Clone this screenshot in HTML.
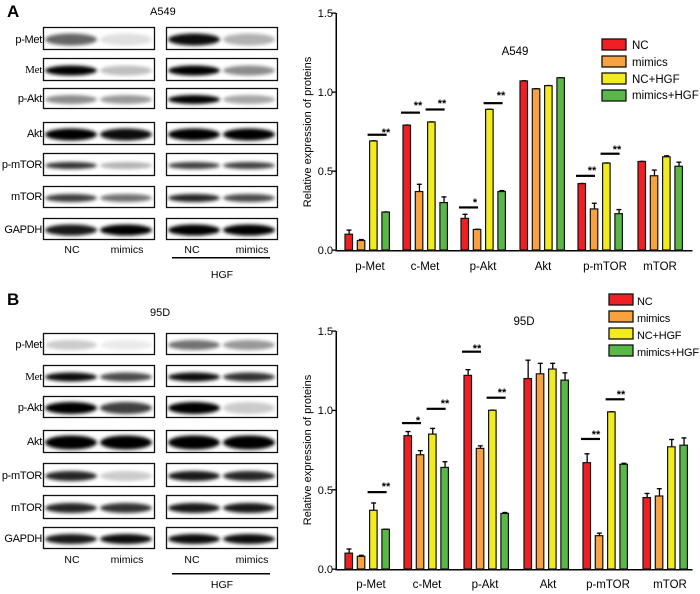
<!DOCTYPE html>
<html><head><meta charset="utf-8"><style>
html,body{margin:0;padding:0;background:#fff;}
svg{display:block;font-family:"Liberation Sans",Arial,sans-serif;}
</style></head><body>
<svg id="s" width="700" height="594" viewBox="0 0 700 594" xmlns="http://www.w3.org/2000/svg">
<defs>
<filter id="b1" x="-30%" y="-100%" width="160%" height="300%"><feGaussianBlur stdDeviation="1.8"/></filter>
</defs>
<g id="blots"></g>
<g id="bars"></g>
<text x="7" y="17" font-size="17" font-weight="bold">A</text>
<text x="150" y="15" font-size="11">A549</text>
<g font-size="11" text-anchor="end" letter-spacing="-0.3">
<text x="42" y="43">p-Met</text>
<text x="42" y="73" font-family="Liberation Serif,serif">Met</text>
<text x="42" y="102">p-Akt</text>
<text x="42" y="137">Akt</text>
<text x="42" y="168">p-mTOR</text>
<text x="42" y="200">mTOR</text>
<text x="42" y="233">GAPDH</text>
</g>
<g font-size="10.5" text-anchor="middle">
<text x="72" y="253">NC</text><text x="127" y="253">mimics</text>
<text x="192" y="253">NC</text><text x="252" y="253">mimics</text>
<text x="222" y="278">HGF</text>
</g>
<rect x="172" y="257" width="98" height="1.5" fill="#000"/>
<text x="7" y="305" font-size="17" font-weight="bold">B</text>
<text x="150" y="316" font-size="11">95D</text>
<g font-size="11" text-anchor="end" letter-spacing="-0.3">
<text x="42" y="348">p-Met</text>
<text x="42" y="380" font-family="Liberation Serif,serif">Met</text>
<text x="42" y="411">p-Akt</text>
<text x="42" y="445">Akt</text>
<text x="42" y="479">p-mTOR</text>
<text x="42" y="511">mTOR</text>
<text x="42" y="542">GAPDH</text>
</g>
<g font-size="10.5" text-anchor="middle">
<text x="72" y="563">NC</text><text x="127" y="563">mimics</text>
<text x="192" y="563">NC</text><text x="252" y="563">mimics</text>
<text x="222" y="588">HGF</text>
</g>
<rect x="172" y="573" width="98" height="1.5" fill="#000"/>
<g font-size="11" text-anchor="end">
<text x="333" y="254">0.0</text><text x="333" y="175">0.5</text><text x="333" y="96">1.0</text><text x="333" y="17">1.5</text>
<text x="333" y="573">0.0</text><text x="333" y="494">0.5</text><text x="333" y="414">1.0</text><text x="333" y="335">1.5</text>
</g>
<text transform="translate(311,132) rotate(-90)" font-size="11" text-anchor="middle">Relative expression of proteins</text>
<text transform="translate(311,450) rotate(-90)" font-size="11" text-anchor="middle">Relative expression of proteins</text>
<text x="515" y="55" font-size="11.5" text-anchor="middle">A549</text>
<text x="524" y="325" font-size="11.5" text-anchor="middle">95D</text>
<g font-size="11.5" text-anchor="middle">
<text x="370" y="270">p-Met</text><text x="425" y="270">c-Met</text><text x="483" y="270">p-Akt</text><text x="543" y="270">Akt</text><text x="605" y="270">p-mTOR</text><text x="660" y="270">mTOR</text>
<text x="371" y="588">p-Met</text><text x="427" y="588">c-Met</text><text x="485" y="588">p-Akt</text><text x="548" y="588">Akt</text><text x="608" y="588">p-mTOR</text><text x="670" y="588">mTOR</text>
</g>
<g font-size="11.5">
<text x="632" y="49">NC</text><text x="632" y="66">mimics</text><text x="632" y="83">NC+HGF</text><text x="632" y="99">mimics+HGF</text>
</g>
<g font-size="11" letter-spacing="-0.2">
<text x="637" y="305">NC</text><text x="637" y="322">mimics</text><text x="637" y="339">NC+HGF</text><text x="637" y="356">mimics+HGF</text>
</g>
<g id="stars" font-size="11" font-weight="bold" text-anchor="middle">
<text x="386" y="136">**</text>
<text x="418" y="109">**</text><text x="442" y="107">**</text>
<text x="475" y="206">*</text><text x="501" y="99">**</text>
<text x="592" y="174">**</text><text x="617" y="153">**</text>
<text x="386" y="490">**</text>
<text x="418" y="424">*</text><text x="445" y="407">**</text>
<text x="477" y="352">**</text><text x="502" y="396">**</text>
<text x="596" y="438">**</text><text x="621" y="398">**</text>
</g>
</svg>
<script>
var NS="http://www.w3.org/2000/svg";
function el(p,t,a){var e=document.createElementNS(NS,t);for(var k in a)e.setAttribute(k,a[k]);p.appendChild(e);return e;}
var bl=document.getElementById('blots');
function panelSet(rows,bands){
 [[43,112],[166,112]].forEach(function(p,pi){
  rows.forEach(function(r,ri){
   var g=el(bl,'g',{});
   var cp='c'+r[0]+'_'+pi;
   var c=el(g,'clipPath',{id:cp});el(c,'rect',{x:p[0],y:r[0],width:p[1],height:r[1]});
   var gg=el(g,'g',{'clip-path':'url(#'+cp+')'});
   el(gg,'rect',{x:p[0],y:r[0],width:p[1],height:r[1],fill:'#fff'});
   var b=bands[ri];
   [[p[0]+28],[p[0]+83]].forEach(function(lx,li){
     var op=b[pi*2+li];
     el(gg,'ellipse',{cx:lx[0],cy:r[0]+r[1]/2+1,rx:26,ry:b[4],fill:'#000',opacity:op,filter:'url(#b1)'});
   });
   el(g,'rect',{x:p[0]+0.5,y:r[0]+0.5,width:p[1]-1,height:r[1]-1,fill:'none',stroke:'#111','stroke-width':1.3});
  });
 });
}
panelSet([[27,23],[58,23],[88,21],[122,23],[153,23],[186,22],[218,22]],
 [[.6,.12,.95,.3,6],[1,.25,1,.45,5],[.45,.4,1,.35,4.5],[1,.95,1,1,6],[.8,.3,.75,.75,3.5],[.75,.55,.85,.7,4],[.9,1,1,1,5.5]]);
panelSet([[333,22],[365,22],[396,22],[430,23],[463,24],[495,24],[527,22]],
 [[.2,.08,.55,.4,5],[.95,.7,.95,.8,4.5],[1,.75,1,.2,6],[1,1,1,1,7],[.85,.2,.9,.85,5],[.85,.8,.9,.9,5],[.9,.95,.95,.95,5]]);

var bg=document.getElementById('bars');
var cols=['#ee2024','#f7a13f','#f2ec1e','#5ab849'];
function chart(y0,scale,xs,data,err,sig){
 el(bg,'rect',{x:335.5,y:y0-1.5*scale,width:1.5,height:1.5*scale+1,fill:'#000'});
 el(bg,'rect',{x:335.5,y:y0,width:357,height:1.5,fill:'#000'});
 for(var t=0;t<=3;t++)el(bg,'rect',{x:332,y:y0-t*0.5*scale-0.5,width:4,height:1.3,fill:'#000'});
 xs.forEach(function(x0,gi){
  for(var i=0;i<4;i++){
   var x=x0+i*12.3,v=data[gi][i],e=err[gi][i],h=v*scale;
   el(bg,'rect',{x:x+0.5,y:y0-h-e*scale,width:1.3,height:e*scale,fill:'#000'});
   el(bg,'rect',{x:x-1.5,y:y0-h-e*scale,width:5,height:1.3,fill:'#000'});
   el(bg,'rect',{x:x-3,y:y0-h,width:7.5,height:h,fill:cols[i],stroke:'#111','stroke-width':1.2});
  }
 });
 sig.forEach(function(s){var x=xs[s[0]]+s[1]*12.3-5;el(bg,'rect',{x:x,y:y0-s[2]*scale-1,width:19,height:2.2,fill:'#000'});});
}
chart(250,158,[348,406,464,523,581,641],
 [[.10,.06,.69,.24],[.79,.37,.81,.30],[.20,.13,.89,.37],[1.07,1.02,1.04,1.09],[.42,.26,.55,.23],[.56,.47,.59,.53]],
 [[.03,.01,.005,.005],[.005,.05,.005,.04],[.03,.005,.005,.01],[.005,.005,.005,.005],[.005,.04,.005,.03],[.005,.04,.01,.03]],
 [[0,2,.73],[1,0,.87],[1,2,.89],[2,0,.27],[2,2,.93],[4,0,.47],[4,2,.61]]);
chart(569,158.7,[348,407,467,527,586,646],
 [[.10,.08,.37,.25],[.84,.72,.85,.64],[1.22,.76,1.00,.35],[1.20,1.23,1.26,1.19],[.67,.21,.99,.66],[.45,.46,.77,.78]],
 [[.03,.01,.05,.005],[.03,.03,.04,.04],[.04,.02,.005,.01],[.12,.07,.04,.05],[.06,.02,.005,.01],[.03,.05,.05,.05]],
 [[0,2,.485],[1,0,.92],[1,2,1.01],[2,0,1.37],[2,2,1.08],[4,0,.82],[4,2,1.07]]);
[[602,39],[609,294]].forEach(function(L){
 for(var i=0;i<4;i++)el(bg,'rect',{x:L[0],y:L[1]+i*17,width:24,height:11,fill:cols[i],stroke:'#111','stroke-width':1.3});
});
</script>
</body></html>
